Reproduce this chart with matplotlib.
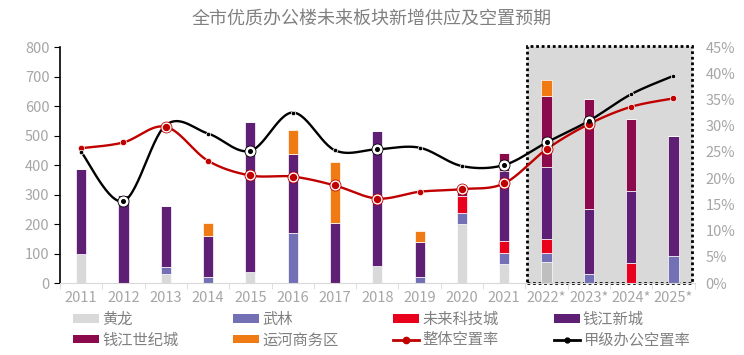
import numpy as np
import matplotlib
matplotlib.use('Agg')
import matplotlib.pyplot as plt
from matplotlib.patches import Rectangle, Patch
from matplotlib.lines import Line2D

plt.rcParams['font.family'] = ['Noto Sans CJK SC', 'DejaVu Sans']

years = ['2011', '2012', '2013', '2014', '2015', '2016', '2017', '2018',
         '2019', '2020', '2021', '2022*', '2023*', '2024*', '2025*']

# new supply by district (stacked, bottom to top)
huanglong = [100, 0, 30, 0, 37, 0, 0, 57, 0, 199, 63, 70, 0, 0, 0]
wulin = [0, 0, 25, 22, 0, 168, 0, 0, 22, 39, 40, 31, 30, 0, 93]
weilai = [0, 0, 0, 0, 0, 0, 0, 0, 0, 56, 39, 47, 0, 68, 0]
qjxc = [285, 300, 205, 138, 510, 269, 205, 458, 116, 0, 238, 246, 222, 245, 404]
qjsjc = [0, 0, 0, 0, 0, 0, 0, 0, 0, 15, 60, 241, 371, 244, 0]
yunhe = [0, 0, 0, 45, 0, 83, 205, 0, 37, 0, 0, 52, 0, 0, 0]

# vacancy rates (%)
vac_all = [25.7, 26.8, 29.8, 23.3, 20.5, 20.3, 18.6, 16.1, 17.4, 17.9, 19.0, 25.5, 30.3, 33.6, 35.2]
vac_a = [25.0, 15.6, 30.1, 28.5, 25.2, 32.5, 25.3, 25.5, 25.8, 22.3, 22.5, 26.8, 30.9, 36.0, 39.5]

series = ['黄龙', '武林', '未来科技城', '钱江新城', '钱江世纪城', '运河商务区']
colors = ['#d9d9d9', '#7470b5', '#e8001c', '#5e1f74', '#8a0a4c', '#f07a14']

# which points get the big ringed marker
ring_all = [2, 4, 5, 6, 7, 9, 10, 11, 12]
ring_a = [1, 4, 7, 10, 11, 12]


def smooth(xs, ys, n=30):
    # excel-like smoothed line (bezier through the points)
    x = np.asarray(xs, float)
    y = np.asarray(ys, float)
    px = np.concatenate([[x[0]], x, [x[-1]]])
    py = np.concatenate([[y[0]], y, [y[-1]]])
    ox, oy = [], []
    t = np.linspace(0, 1, n)
    for i in range(len(x) - 1):
        p0 = np.array([px[i + 1], py[i + 1]])
        p3 = np.array([px[i + 2], py[i + 2]])
        p1 = p0 + (np.array([px[i + 2], py[i + 2]]) - np.array([px[i], py[i]])) / 6
        p2 = p3 - (np.array([px[i + 3], py[i + 3]]) - np.array([px[i + 1], py[i + 1]])) / 6
        b = ((1 - t) ** 3)[:, None] * p0 + (3 * (1 - t) ** 2 * t)[:, None] * p1 \
            + (3 * (1 - t) * t ** 2)[:, None] * p2 + (t ** 3)[:, None] * p3
        ox.extend(b[:, 0])
        oy.extend(b[:, 1])
    return ox, oy


fig = plt.figure(figsize=(7.44, 3.55), dpi=100)
ax = fig.add_axes([0.0806, 0.2028, 0.853, 0.6648])
x = np.arange(len(years))

# shaded forecast area
rect = Rectangle((10.55, 0), 3.9, 805, facecolor='#d9d9d9', edgecolor='black',
                 linestyle=(0, (1, 1)), linewidth=2, zorder=0, clip_on=False)
ax.add_patch(rect)

data = [huanglong, wulin, weilai, qjxc, qjsjc, yunhe]
bottom = np.zeros(len(years))
for vals, c, name in zip(data, colors, series):
    cs = [c] * len(years)
    if name == '黄龙':
        cs = [c if i < 11 else '#bfbfbf' for i in range(len(years))]
    ax.bar(x, vals, 0.24, bottom=bottom, color=cs, edgecolor='white',
           linewidth=0.5, zorder=2)
    bottom += np.array(vals)

ax.set_xlim(-0.5, 14.5)
ax.set_ylim(0, 800)
ax.set_yticks(range(0, 801, 100))
ax.set_xticks(x)
ax.set_xticklabels(years)
ax.set_xticks(np.arange(-0.5, 15, 1), minor=True)
ax.tick_params(axis='x', which='major', length=0, labelsize=10.5, colors='#a6a6a6', pad=6)
ax.tick_params(axis='x', which='minor', length=4, color='#d9d9d9')
ax.tick_params(axis='y', length=4, color='black', labelsize=10.5, labelcolor='#a6a6a6')
for s in ['top', 'right']:
    ax.spines[s].set_visible(False)
ax.spines['bottom'].set_color('#d9d9d9')
ax.spines['left'].set_color('black')
ax.spines['left'].set_linewidth(1.2)

ax2 = ax.twinx()
ax2.set_ylim(0, 45)
ax2.set_yticks(range(0, 46, 5))
ax2.set_yticklabels([f'{v}%' for v in range(0, 46, 5)])
ax2.tick_params(axis='y', length=0, labelsize=10.5, labelcolor='#a6a6a6', pad=8)
for s in ax2.spines.values():
    s.set_visible(False)

for vals, c, rings in [(vac_all, '#c00000', ring_all), (vac_a, 'black', ring_a)]:
    sx, sy = smooth(x, vals)
    ax2.plot(sx, sy, color=c, linewidth=1.7, zorder=3)
    red = c != 'black'
    for i, v in enumerate(vals):
        if i in rings:
            ax2.plot(i, v, 'o', ms=7.5, color=c, zorder=4)
            ax2.plot(i, v, 'o', ms=6.3, color='white', zorder=5)
            ax2.plot(i, v, 'o', ms=4.3 if red else 2.6, color=c, zorder=6)
        else:
            ax2.plot(i, v, 'o', ms=4.6 if red else 3.2, color=c,
                     markeredgecolor='white', markeredgewidth=0.5, zorder=4)

fig.text(0.5, 0.945, '全市优质办公楼未来板块新增供应及空置预期', ha='center', va='center',
         fontsize=13, color='#808080')

handles = [Patch(facecolor=c) for c in colors]
handles += [Line2D([], [], color='#c00000', lw=2, marker='o', ms=4.5),
            Line2D([], [], color='black', lw=2, marker='o', ms=3.5)]
labels = series + ['整体空置率', '甲级办公空置率']
# legend fills column by column, reorder so it reads row by row
order = [0, 4, 1, 5, 2, 6, 3, 7]
fig.legend([handles[i] for i in order], [labels[i] for i in order], ncol=4,
           loc='upper left', bbox_to_anchor=(0.098, 0.125),
           frameon=False, fontsize=11, labelcolor='#808080', handlelength=1.7,
           handleheight=0.5, handletextpad=0.2, columnspacing=3.6, labelspacing=0.25,
           borderpad=0, borderaxespad=0)

fig.savefig('out.png', dpi=100)
